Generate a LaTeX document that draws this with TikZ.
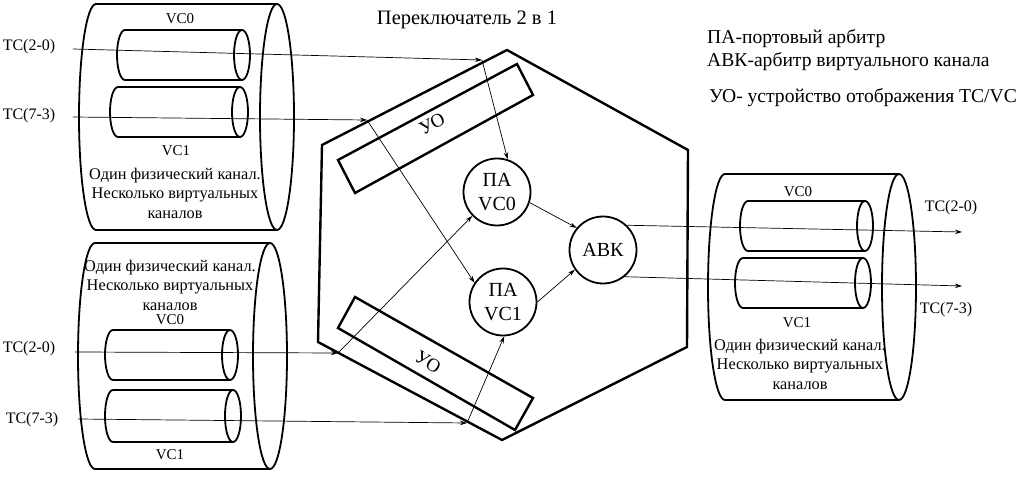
\documentclass[tikz,border=0pt]{standalone}
\usepackage{fontspec}
\setmainfont{Liberation Serif}
\usetikzlibrary{arrows.meta}
\tikzset{
  cylline/.style={line width=1.8pt, line join=round},
  hexline/.style={line width=2.4pt, line join=miter},
  boxline/.style={line width=2.4pt, line join=miter},
  conn/.style={line width=0.7pt},
  arr/.style={conn, -{Stealth[length=7pt,width=4.5pt]}},
  arbiter/.style={circle, draw, line width=1.8pt, minimum size=67pt, inner sep=0pt, align=center, font=\fontsize{20}{24}\selectfont},
  lbl/.style={font=\fontsize{15}{16}\selectfont, inner sep=0pt},
  tclbl/.style={font=\fontsize{16}{17}\selectfont, inner sep=0pt},
  desc/.style={font=\fontsize{16.3}{19.5}\selectfont, align=center, inner sep=0pt},
  legend/.style={font=\fontsize{19.6}{22}\selectfont, inner sep=0pt, anchor=west},
}
\newcommand\mycylinder[5]{% #1 left x, #2 right x, #3 centre y, #4 rx, #5 ry
  \draw[cylline, fill=white] ({#2},{#3+#5}) -- ({#1},{#3+#5})
     arc[start angle=90, end angle=270, x radius=#4, y radius=#5] -- ({#2},{#3-#5});
  \draw[cylline, fill=white] (#2,#3) ellipse[x radius=#4, y radius=#5];}
\begin{document}
\begin{tikzpicture}[x=1pt,y=1pt]
\useasboundingbox (0,0) rectangle (1029,-486);

% ---- cylinders
\mycylinder{96}{277}{-117}{17}{113}
\mycylinder{125}{242}{-55}{8}{25}
\mycylinder{118}{240}{-112}{8}{25}

\mycylinder{95}{270}{-356}{17}{113}
\mycylinder{113}{230}{-355}{8}{25}
\mycylinder{113}{233}{-416}{8}{26}

\mycylinder{725}{899}{-287}{17}{113}
\mycylinder{748}{865}{-226}{8}{25}
\mycylinder{743}{863}{-283}{8}{25}

% cylinder texts
\node[lbl] (tlvc0) at (180,-19) {VC0};
\node[lbl] (tlvc1) at (176,-151) {VC1};
\node[desc] (tldesc) at (175,-193) {Один физический канал.\\Несколько виртуальных\\каналов};

\node[desc] (bldesc) at (170,-285) {Один физический канал.\\Несколько виртуальных\\каналов};
\node[lbl] (blvc0) at (170,-320) {VC0};
\node[lbl] (blvc1) at (170,-455) {VC1};

\node[lbl] (rvc0) at (798,-192) {VC0};
\node[lbl] (rvc1) at (797,-323) {VC1};
\node[desc] (rdesc) at (800,-364) {Один физический канал.\\Несколько виртуальных\\каналов};

% ---- hexagon switch
\draw[hexline] (507,-50) -- (688,-150) -- (687,-347) -- (502,-440) -- (318,-342) -- (322,-145) -- cycle;

% mapping units
\draw[boxline] (338,-160) -- (517,-64) -- (533,-95) -- (355,-193) -- cycle;
\node[font=\fontsize{19}{19}\selectfont, rotate=28, inner sep=0pt] (uo1) at (432,-124) {УО};
\draw[boxline] (355,-297) -- (533,-398) -- (515,-430) -- (338,-328) -- cycle;
\node[font=\fontsize{19}{19}\selectfont, rotate=-30, inner sep=0pt] (uo2) at (428,-362) {УО};

% arbiters
\node[arbiter] (pa0) at (497,-192) {ПА\\VC0};
\node[arbiter] (pa1) at (503,-302) {ПА\\VC1};
\node[arbiter] (abk) at (603,-250) {АВК};

% ---- input labels
\node[tclbl] (in1) at (29,-47) {TC(2-0)};
\node[tclbl] (in2) at (29,-116) {TC(7-3)};
\node[tclbl] (in3) at (29,-349) {TC(2-0)};
\node[tclbl] (in4) at (32,-420) {TC(7-3)};
\node[tclbl] (out1) at (951,-208) {TC(2-0)};
\node[tclbl] (out2) at (946,-310) {TC(7-3)};

% coordinates for connectors
\coordinate (s1) at (73,-49);
\coordinate (j1) at (482,-60);
\coordinate (s2) at (73,-117);
\coordinate (j2) at (367,-120);
\coordinate (s3) at (75,-352);
\coordinate (j3) at (338,-353);
\coordinate (s4) at (78,-419);
\coordinate (j4) at (467,-423);
\coordinate (e1) at (962,-232);
\coordinate (e2) at (962,-286);

% ---- connectors
\draw[arr] (s1) -- (j1);
\draw[arr] (j1) -- (pa0.72);
\draw[arr] (s2) -- (j2);
\draw[arr] (j2) -- (pa1.146);
\draw[arr] (s3) -- (j3);
\draw[arr] (j3) -- (pa0.224);
\draw[arr] (s4) -- (j4);
\draw[arr] (j4) -- (pa1.272);
\draw[arr] (pa0.-18) -- (abk.140);
\draw[arr] (pa1.0) -- (abk.215);
\draw[arr] (abk.46) -- (e1);
\draw[arr] (abk.309) -- (e2);

% ---- titles and legend
\node[font=\fontsize{20.5}{22}\selectfont, inner sep=0pt] (title) at (467,-20) {Переключатель 2 в 1};
\node[legend] (lg1) at (707,-39) {ПА-портовый арбитр};
\node[legend] (lg2) at (707,-62) {АВК-арбитр виртуального канала};
\node[legend] (lg3) at (709,-98) {УО- устройство отображения TC/VC};
\end{tikzpicture}
\end{document}
